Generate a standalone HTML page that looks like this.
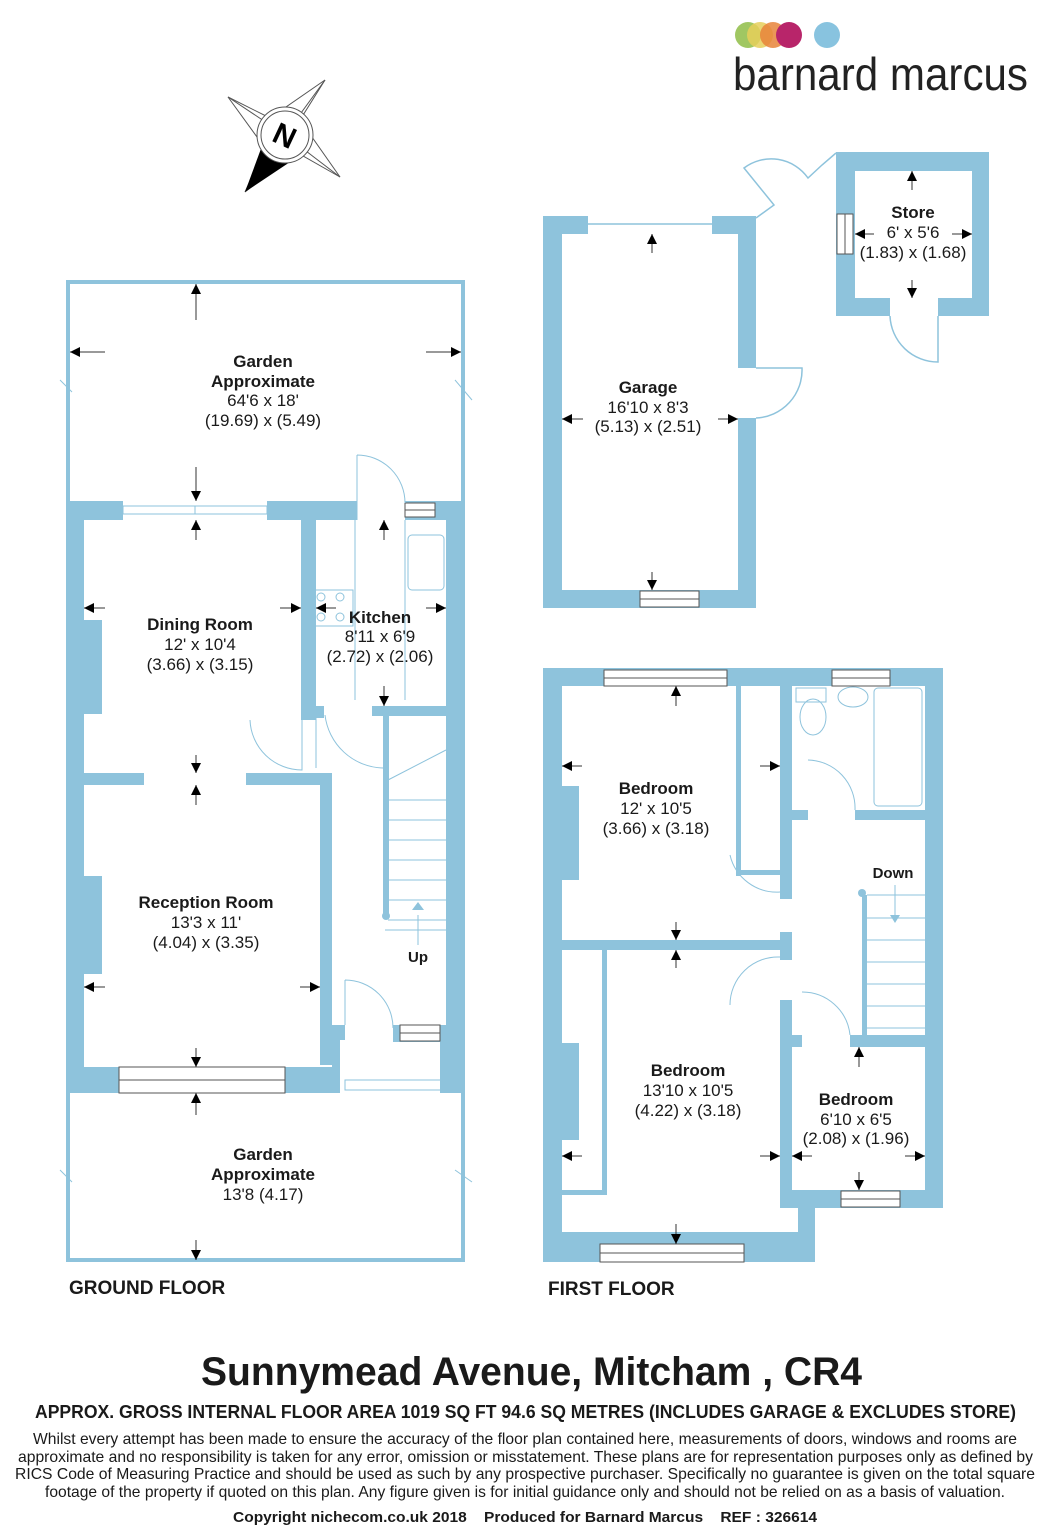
<!DOCTYPE html>
<html><head><meta charset="utf-8"><style>
html,body{margin:0;padding:0;background:#fff}
svg{display:block}
text{font-family:"Liberation Sans",Arial,sans-serif;fill:#1a1a1a}
.b{font-weight:bold;font-size:17px}
.n{font-size:17px}
</style></head><body>
<svg width="1053" height="1536" viewBox="0 0 1053 1536" xmlns="http://www.w3.org/2000/svg">
<defs>
<marker id="a" viewBox="0 0 10 10" refX="10" refY="5" markerWidth="10" markerHeight="10" markerUnits="userSpaceOnUse" orient="auto"><path d="M0,0L10,5L0,10z" fill="#000"/></marker>
</defs>
<circle cx="748" cy="35" r="13" fill="#9bc45a" opacity="0.95"/>
<circle cx="760" cy="35" r="13" fill="#e6cf5a" opacity="0.85"/>
<circle cx="773" cy="35" r="13" fill="#e8843a" opacity="0.85"/>
<circle cx="789" cy="35" r="13" fill="#b8256a"/>
<circle cx="827" cy="35" r="13" fill="#88c3df"/>
<text x="733" y="90" font-size="46" textLength="295" lengthAdjust="spacingAndGlyphs" style="font-weight:normal;fill:#222">barnard marcus</text>

<g stroke="#555" stroke-width="1" fill="none">
<polygon points="228,97 270,118 325,80 300,120 340,177 296,152 245,192 265,148"/>
<line x1="228" y1="97" x2="285" y2="135"/><line x1="325" y1="80" x2="285" y2="135"/><line x1="340" y1="177" x2="285" y2="135"/>
</g>
<polygon points="245,192 262,146 290,162" fill="#000"/>
<circle cx="285" cy="135" r="28" fill="#fff" stroke="#555"/>
<circle cx="285" cy="135" r="24" fill="#fff" stroke="#555"/>
<text x="285" y="146" font-size="30" font-weight="bold" text-anchor="middle" transform="rotate(25 285 135)" style="fill:#000">N</text>

<rect x="68" y="282" width="395" height="978" fill="none" stroke="#8ec3dc" stroke-width="4"/>
<g fill="#8ec3dc">
<rect x="66" y="501" width="57" height="19"/>
<rect x="267" y="501" width="90" height="19"/>
<rect x="405" y="501" width="59" height="19"/>
<rect x="66" y="501" width="18" height="592"/>
<rect x="446" y="501" width="18" height="592"/>
<rect x="84" y="620" width="18" height="94"/>
<rect x="84" y="876" width="18" height="98"/>
<rect x="301" y="520" width="15" height="200"/>
<rect x="312" y="706" width="12" height="12"/>
<rect x="372" y="706" width="74" height="10"/>
<rect x="383" y="716" width="6" height="200"/>
<rect x="84" y="773" width="60" height="12"/>
<rect x="246" y="773" width="86" height="12"/>
<rect x="320" y="773" width="12" height="292"/>
<rect x="332" y="1025" width="13" height="15"/>
<rect x="393" y="1025" width="53" height="17"/>
<rect x="66" y="1067" width="53" height="26"/>
<rect x="285" y="1067" width="52" height="26"/>
<rect x="332" y="1040" width="8" height="53"/>
<rect x="440" y="1040" width="12" height="53"/>
</g>
<g fill="#fff" stroke="#555" stroke-width="1">
<rect x="119" y="1067" width="166" height="13"/><rect x="119" y="1080" width="166" height="13"/>
<rect x="405" y="503" width="30" height="7"/><rect x="405" y="510" width="30" height="7"/>
<rect x="400" y="1025" width="40" height="8"/><rect x="400" y="1033" width="40" height="8"/>
</g>
<g stroke="#8ec3dc" stroke-width="1" fill="none">
<rect x="123" y="506" width="144" height="8"/>
<line x1="195" y1="506" x2="195" y2="514"/>
<path d="M357,455 L357,520 M357,455 A48,48 0 0 1 405,503"/>
<path d="M316,718 L316,768 M250,720 A52,52 0 0 0 302,770 L302,720"/>
<path d="M325,715 A60,60 0 0 0 383,768"/>
<path d="M345,980 L345,1025 M345,980 A48,48 0 0 1 393,1028"/>
<rect x="345" y="1080" width="100" height="10"/>
<path d="M388,780 L446,750 M388,800 L446,800 M388,820 L446,820 M388,840 L446,840 M388,860 L446,860 M388,880 L446,880 M388,900 L446,900 M388,920 L446,920 M385,930 L446,930"/>
<rect x="408" y="535" width="36" height="55" rx="4"/>
<rect x="313" y="590" width="40" height="36"/>
<circle cx="321" cy="597" r="4"/><circle cx="340" cy="597" r="4"/><circle cx="321" cy="617" r="4"/><circle cx="340" cy="617" r="4"/>
<line x1="355" y1="520" x2="355" y2="700"/><line x1="405" y1="520" x2="405" y2="700"/>
<line x1="418" y1="915" x2="418" y2="945"/>
<line x1="60" y1="380" x2="72" y2="392"/><line x1="455" y1="380" x2="472" y2="400"/>
<line x1="60" y1="1170" x2="72" y2="1182"/><line x1="455" y1="1170" x2="472" y2="1182"/>
</g>
<circle cx="386" cy="916" r="4" fill="#8ec3dc"/>
<path d="M412,910 L418,902 L424,910z" fill="#8ec3dc"/>

<g stroke="#333" stroke-width="1" marker-end="url(#a)">
<line x1="196" y1="320" x2="196" y2="284"/>
<line x1="105" y1="352" x2="70" y2="352"/>
<line x1="426" y1="352" x2="461" y2="352"/>
<line x1="196" y1="467" x2="196" y2="501"/>
<line x1="196" y1="540" x2="196" y2="520"/>
<line x1="105" y1="608" x2="84" y2="608"/>
<line x1="280" y1="608" x2="301" y2="608"/>
<line x1="196" y1="755" x2="196" y2="773"/>
<line x1="196" y1="805" x2="196" y2="785"/>
<line x1="105" y1="987" x2="84" y2="987"/>
<line x1="300" y1="987" x2="320" y2="987"/>
<line x1="196" y1="1048" x2="196" y2="1067"/>
<line x1="196" y1="1115" x2="196" y2="1093"/>
<line x1="196" y1="1240" x2="196" y2="1260"/>
<line x1="384" y1="540" x2="384" y2="520"/>
<line x1="336" y1="608" x2="316" y2="608"/>
<line x1="426" y1="608" x2="446" y2="608"/>
<line x1="384" y1="686" x2="384" y2="706"/>
</g>

<text class="b" x="263" y="367" text-anchor="middle">Garden</text>
<text class="b" x="263" y="387" text-anchor="middle">Approximate</text>
<text class="n" x="263" y="406" text-anchor="middle">64'6 x 18'</text>
<text class="n" x="263" y="426" text-anchor="middle">(19.69) x (5.49)</text>
<text class="b" x="200" y="630" text-anchor="middle">Dining Room</text>
<text class="n" x="200" y="650" text-anchor="middle">12' x 10'4</text>
<text class="n" x="200" y="670" text-anchor="middle">(3.66) x (3.15)</text>
<text class="b" x="380" y="623" text-anchor="middle">Kitchen</text>
<text class="n" x="380" y="642" text-anchor="middle">8'11 x 6'9</text>
<text class="n" x="380" y="662" text-anchor="middle">(2.72) x (2.06)</text>
<text class="b" x="206" y="908" text-anchor="middle">Reception Room</text>
<text class="n" x="206" y="928" text-anchor="middle">13'3 x 11'</text>
<text class="n" x="206" y="948" text-anchor="middle">(4.04) x (3.35)</text>
<text class="b" x="418" y="962" text-anchor="middle" style="font-size:15px">Up</text>
<text class="b" x="263" y="1160" text-anchor="middle">Garden</text>
<text class="b" x="263" y="1180" text-anchor="middle">Approximate</text>
<text class="n" x="263" y="1200" text-anchor="middle">13'8 (4.17)</text>
<text class="b" x="69" y="1294" style="font-size:19px">GROUND FLOOR</text>

<g fill="#8ec3dc">
<rect x="543" y="216" width="45" height="18"/>
<rect x="712" y="216" width="44" height="18"/>
<rect x="543" y="216" width="19" height="392"/>
<rect x="738" y="216" width="18" height="152"/>
<rect x="738" y="418" width="18" height="190"/>
<rect x="543" y="590" width="213" height="18"/>
<rect x="836" y="152" width="153" height="19"/>
<rect x="836" y="152" width="19" height="164"/>
<rect x="972" y="152" width="17" height="164"/>
<rect x="836" y="298" width="54" height="18"/>
<rect x="938" y="298" width="51" height="18"/>
</g>
<g fill="#fff" stroke="#555" stroke-width="1">
<rect x="640" y="591" width="59" height="8"/><rect x="640" y="599" width="59" height="8"/>
<rect x="837" y="214" width="8" height="40"/><rect x="845" y="214" width="8" height="40"/>
</g>
<g stroke="#8ec3dc" stroke-width="1.5" fill="none">
<line x1="588" y1="224" x2="712" y2="224"/>
<path d="M756,218 L774,205 L744,168 A45,45 0 0 1 808,178 L822,165 L836,153"/>
<path d="M756,368 L802,368 A48,48 0 0 1 756,418"/>
<path d="M890,316 A48,48 0 0 0 938,362 L938,316"/>
</g>
<g stroke="#333" stroke-width="1" marker-end="url(#a)">
<line x1="652" y1="253" x2="652" y2="234"/>
<line x1="583" y1="419" x2="562" y2="419"/>
<line x1="718" y1="419" x2="738" y2="419"/>
<line x1="652" y1="572" x2="652" y2="590"/>
<line x1="912" y1="190" x2="912" y2="171"/>
<line x1="874" y1="234" x2="855" y2="234"/>
<line x1="952" y1="234" x2="972" y2="234"/>
<line x1="912" y1="280" x2="912" y2="298"/>
</g>
<text class="b" x="648" y="393" text-anchor="middle">Garage</text>
<text class="n" x="648" y="413" text-anchor="middle">16'10 x 8'3</text>
<text class="n" x="648" y="432" text-anchor="middle">(5.13) x (2.51)</text>
<text class="b" x="913" y="218" text-anchor="middle">Store</text>
<text class="n" x="913" y="238" text-anchor="middle">6' x 5'6</text>
<text class="n" x="913" y="258" text-anchor="middle">(1.83) x (1.68)</text>

<g fill="#8ec3dc">
<rect x="543" y="668" width="400" height="18"/>
<rect x="543" y="668" width="19" height="594"/>
<rect x="925" y="668" width="18" height="540"/>
<rect x="780" y="1190" width="163" height="18"/>
<rect x="798" y="1190" width="17" height="72"/>
<rect x="543" y="1232" width="272" height="30"/>
<rect x="562" y="786" width="17" height="94"/>
<rect x="562" y="1043" width="17" height="97"/>
<rect x="780" y="686" width="12" height="213"/>
<rect x="780" y="932" width="12" height="28"/>
<rect x="780" y="1000" width="12" height="190"/>
<rect x="792" y="810" width="16" height="10"/>
<rect x="855" y="810" width="70" height="10"/>
<rect x="562" y="940" width="218" height="10"/>
<rect x="792" y="1035" width="10" height="12"/>
<rect x="850" y="1035" width="75" height="12"/>
<rect x="736" y="686" width="5" height="190"/>
<rect x="736" y="870" width="44" height="5"/>
<rect x="602" y="950" width="5" height="245"/>
<rect x="562" y="1190" width="45" height="5"/>
<rect x="862" y="895" width="5" height="140"/>
</g>
<g fill="#fff" stroke="#555" stroke-width="1">
<rect x="604" y="670" width="123" height="8"/><rect x="604" y="678" width="123" height="8"/>
<rect x="832" y="670" width="58" height="8"/><rect x="832" y="678" width="58" height="8"/>
<rect x="600" y="1244" width="144" height="9"/><rect x="600" y="1253" width="144" height="9"/>
<rect x="841" y="1191" width="59" height="8"/><rect x="841" y="1199" width="59" height="8"/>
</g>
<g stroke="#8ec3dc" stroke-width="1" fill="none">
<rect x="874" y="688" width="48" height="118" rx="4"/>
<ellipse cx="813" cy="717" rx="13" ry="18"/>
<rect x="796" y="688" width="30" height="14"/>
<ellipse cx="853" cy="697" rx="15" ry="10"/>
<path d="M808,760 A48,48 0 0 1 855,810"/>
<path d="M730,855 A48,48 0 0 0 780,892"/>
<path d="M730,1005 A48,48 0 0 1 780,957"/>
<path d="M802,992 A48,48 0 0 1 850,1035"/>
<path d="M867,895 L925,895 M867,918 L925,918 M867,940 L925,940 M867,962 L925,962 M867,984 L925,984 M867,1006 L925,1006 M867,1028 L925,1028"/>
<line x1="895" y1="885" x2="895" y2="915"/>
</g>
<circle cx="862" cy="893" r="4" fill="#8ec3dc"/>
<path d="M890,915 L895,923 L900,915z" fill="#8ec3dc"/>
<g stroke="#333" stroke-width="1" marker-end="url(#a)">
<line x1="676" y1="706" x2="676" y2="686"/>
<line x1="582" y1="766" x2="562" y2="766"/>
<line x1="760" y1="766" x2="780" y2="766"/>
<line x1="676" y1="922" x2="676" y2="940"/>
<line x1="676" y1="968" x2="676" y2="950"/>
<line x1="582" y1="1156" x2="562" y2="1156"/>
<line x1="760" y1="1156" x2="780" y2="1156"/>
<line x1="676" y1="1224" x2="676" y2="1244"/>
<line x1="859" y1="1067" x2="859" y2="1047"/>
<line x1="812" y1="1156" x2="792" y2="1156"/>
<line x1="905" y1="1156" x2="925" y2="1156"/>
<line x1="859" y1="1172" x2="859" y2="1190"/>
</g>
<text class="b" x="656" y="794" text-anchor="middle">Bedroom</text>
<text class="n" x="656" y="814" text-anchor="middle">12' x 10'5</text>
<text class="n" x="656" y="834" text-anchor="middle">(3.66) x (3.18)</text>
<text class="b" x="688" y="1076" text-anchor="middle">Bedroom</text>
<text class="n" x="688" y="1096" text-anchor="middle">13'10 x 10'5</text>
<text class="n" x="688" y="1116" text-anchor="middle">(4.22) x (3.18)</text>
<text class="b" x="856" y="1105" text-anchor="middle">Bedroom</text>
<text class="n" x="856" y="1125" text-anchor="middle">6'10 x 6'5</text>
<text class="n" x="856" y="1144" text-anchor="middle">(2.08) x (1.96)</text>
<text class="b" x="893" y="878" text-anchor="middle" style="font-size:15px">Down</text>
<text class="b" x="548" y="1295" style="font-size:19px">FIRST FLOOR</text>

<text x="201" y="1385" font-size="40" font-weight="bold" textLength="661" lengthAdjust="spacingAndGlyphs">Sunnymead Avenue, Mitcham , CR4</text>
<text x="35" y="1418" font-size="18" font-weight="bold" textLength="981" lengthAdjust="spacingAndGlyphs">APPROX. GROSS INTERNAL FLOOR AREA 1019 SQ FT 94.6 SQ METRES (INCLUDES GARAGE &amp; EXCLUDES STORE)</text>
<text x="33" y="1444" font-size="16" textLength="984" lengthAdjust="spacingAndGlyphs">Whilst every attempt has been made to ensure the accuracy of the floor plan contained here, measurements of doors, windows and rooms are</text>
<text x="18" y="1462" font-size="16" textLength="1015" lengthAdjust="spacingAndGlyphs">approximate and no responsibility is taken for any error, omission or misstatement. These plans are for representation purposes only as defined by</text>
<text x="15" y="1479" font-size="16" textLength="1020" lengthAdjust="spacingAndGlyphs">RICS Code of Measuring Practice and should be used as such by any prospective purchaser.  Specifically no guarantee is given on the total square</text>
<text x="45" y="1497" font-size="16" textLength="960" lengthAdjust="spacingAndGlyphs">footage of the property if quoted on this plan. Any figure given is for initial guidance only and should not be relied on as a basis of valuation.</text>
<text x="233" y="1522" font-size="15" font-weight="bold" textLength="584" lengthAdjust="spacingAndGlyphs">Copyright nichecom.co.uk 2018&#160;&#160;&#160;&#160;Produced for Barnard Marcus&#160;&#160;&#160;&#160;REF : 326614</text>
</svg>
</body></html>
